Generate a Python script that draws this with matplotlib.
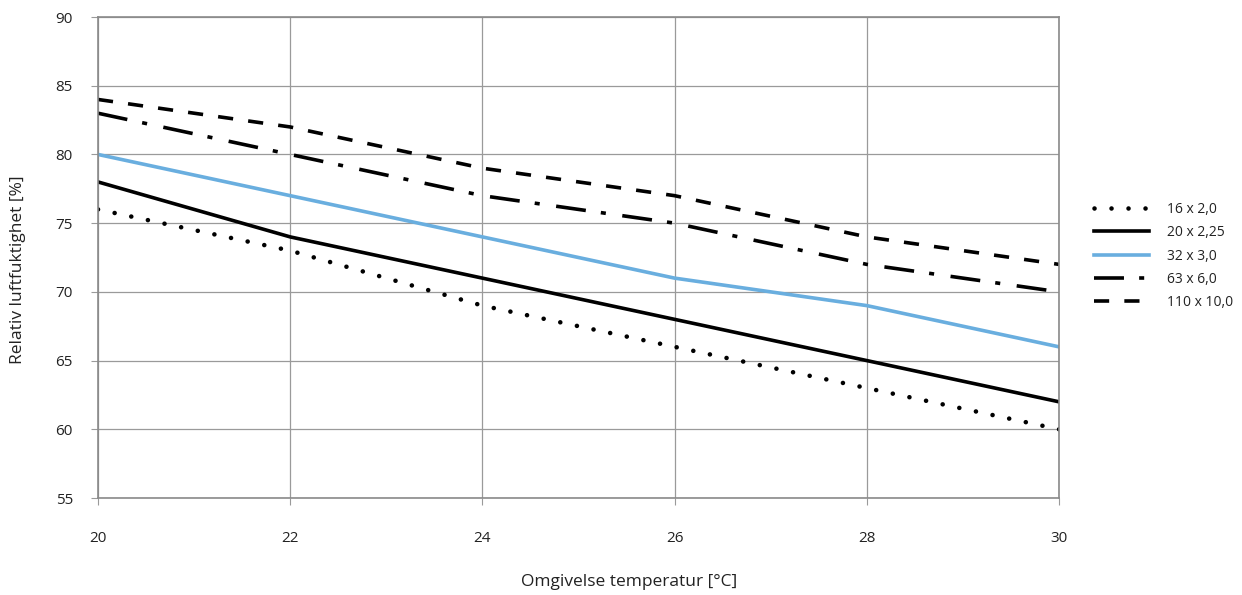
import matplotlib
matplotlib.use("Agg")
import matplotlib.pyplot as plt

plt.rcParams['font.family'] = ['Open Sans', 'DejaVu Sans']

temps = [20, 22, 24, 26, 28, 30]
labels = ["16 x 2,0", "20 x 2,25", "32 x 3,0", "63 x 6,0", "110 x 10,0"]
rh_16 = [76, 73, 69, 66, 63, 60]
rh_20 = [78, 74, 71, 68, 65, 62]
rh_32 = [80, 77, 74, 71, 69, 66]
rh_63 = [83, 80, 77, 75, 72, 70]
rh_110 = [84, 82, 79, 77, 74, 72]

fig = plt.figure(figsize=(12.42, 5.95), dpi=100)
ax = fig.add_axes([0.0789, 0.163, 0.7738, 0.8084])

lw = 2.6
# dots: bigger round caps, ~17 px apart
ax.plot(temps, rh_16, color="black", lw=3.3, linestyle=(0, (0.01, 3.7)),
        dash_capstyle="round", label=labels[0])
ax.plot(temps, rh_20, color="black", lw=lw, label=labels[1])
ax.plot(temps, rh_32, color="#69aedf", lw=lw, label=labels[2])
ax.plot(temps, rh_63, color="black", lw=lw, linestyle=(0, (8.3, 4.2, 1.4, 4.6)), label=labels[3])
ax.plot(temps, rh_110, color="black", lw=lw, linestyle=(0, (4.2, 4.2)), label=labels[4])

ax.set_xlim(20, 30)
ax.set_ylim(55, 90)
ax.set_xticks(temps)
ax.set_yticks(range(55, 91, 5))
ax.grid(True, color="#9a9a9a", lw=0.9)
for s in ax.spines.values():
    s.set_color("#8a8a8a")
    s.set_linewidth(1.2)
ax.tick_params(axis="x", length=5, pad=19, color="#9a9a9a", labelsize=11, labelcolor="#222222")
ax.tick_params(axis="y", length=5, pad=13, color="#9a9a9a", labelsize=11, labelcolor="#222222")

fig.text(629 / 1242, 1 - 582 / 595, "Omgivelse temperatur [°C]", fontsize=12.5,
         color="#222222", ha="center", va="center")
fig.text(18 / 1242, 1 - 270 / 595, "Relativ luftfuktighet [%]", fontsize=12.5,
         color="#222222", ha="center", va="center", rotation=90)

leg = ax.legend(loc="center left", bbox_to_anchor=(1.023, 0.503), frameon=False,
                fontsize=10, handlelength=4.0, labelspacing=0.6, handletextpad=1.3)
for t in leg.get_texts():
    t.set_color("#222222")

fig.savefig("out.png", dpi=100)
